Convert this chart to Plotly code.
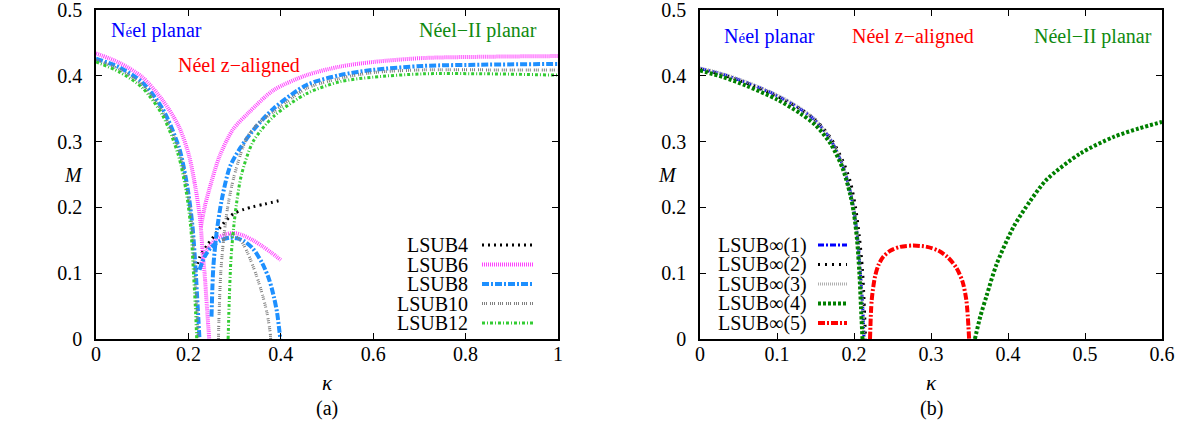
import plotly.graph_objects as go

# ---------------- Data: panel (a) ----------------
k_L4 = [0.216, 0.225, 0.24, 0.254, 0.275, 0.297, 0.32, 0.34, 0.365, 0.395]
m_L4 = [0.105, 0.125, 0.142, 0.155, 0.175, 0.19, 0.197, 0.201, 0.205, 0.21]

k_L6_planar = [0, 0.05, 0.1, 0.144, 0.18, 0.202, 0.216, 0.224, 0.227, 0.231, 0.235, 0.24, 0.245]
m_L6_planar = [0.434, 0.42, 0.398, 0.363, 0.322, 0.277, 0.227, 0.19, 0.17, 0.13, 0.1, 0.05, 0]
k_L6_n2 = [0.227, 0.235, 0.245, 0.267, 0.296, 0.332, 0.384, 0.456, 0.528, 0.6, 0.708, 0.85, 1.0]
m_L6_n2 = [0.17, 0.2, 0.227, 0.277, 0.318, 0.345, 0.378, 0.401, 0.414, 0.421, 0.427, 0.429, 0.430]
k_L6_z = [0.228, 0.24, 0.26, 0.28, 0.30, 0.32, 0.34, 0.36, 0.38, 0.40]
m_L6_z = [0.115, 0.135, 0.152, 0.159, 0.161, 0.157, 0.150, 0.141, 0.131, 0.120]

k_L8_planar = [0, 0.05, 0.1, 0.144, 0.18, 0.198, 0.209, 0.216, 0.22, 0.224]
m_L8_planar = [0.426, 0.413, 0.39, 0.35, 0.29, 0.23, 0.17, 0.10, 0.05, 0]
k_L8_n2 = [0.25, 0.254, 0.261, 0.272, 0.29, 0.312, 0.34, 0.384, 0.456, 0.528, 0.6, 0.708, 0.85, 1.0]
m_L8_n2 = [0.034, 0.11, 0.161, 0.211, 0.262, 0.29, 0.317, 0.35, 0.386, 0.401, 0.409, 0.415, 0.417, 0.418]
k_L8_z = [0.224, 0.235, 0.25, 0.27, 0.29, 0.305, 0.32, 0.34, 0.36, 0.375, 0.385, 0.392, 0.397, 0.399]
m_L8_z = [0.105, 0.125, 0.14, 0.15, 0.154, 0.153, 0.149, 0.137, 0.115, 0.09, 0.064, 0.04, 0.012, 0]

k_L10_planar = [0, 0.05, 0.1, 0.144, 0.18, 0.198, 0.208, 0.214, 0.218, 0.221]
m_L10_planar = [0.424, 0.41, 0.386, 0.345, 0.285, 0.225, 0.17, 0.10, 0.05, 0]
k_L10_n2 = [0.265, 0.267, 0.27, 0.276, 0.285, 0.298, 0.326, 0.35, 0.384, 0.456, 0.528, 0.6, 0.708, 0.85, 1.0]
m_L10_n2 = [0, 0.05, 0.10, 0.15, 0.2, 0.245, 0.305, 0.327, 0.345, 0.381, 0.396, 0.405, 0.409, 0.409, 0.409]
k_L10_z = [0.275, 0.29, 0.30, 0.315, 0.33, 0.348, 0.36, 0.37, 0.377, 0.378]
m_L10_z = [0.15, 0.158, 0.157, 0.148, 0.128, 0.095, 0.068, 0.04, 0.01, 0]

k_L12_planar = [0, 0.05, 0.1, 0.144, 0.178, 0.195, 0.205, 0.211, 0.215, 0.218]
m_L12_planar = [0.421, 0.406, 0.382, 0.34, 0.28, 0.225, 0.17, 0.10, 0.05, 0]
k_L12_n2 = [0.286, 0.288, 0.292, 0.298, 0.305, 0.315, 0.34, 0.384, 0.456, 0.528, 0.6, 0.708, 0.85, 1.0]
m_L12_n2 = [0, 0.05, 0.12, 0.17, 0.21, 0.25, 0.30, 0.338, 0.373, 0.391, 0.398, 0.403, 0.403, 0.401]

# ---------------- Data: panel (b) ----------------
k_inf1 = [0, 0.03, 0.06, 0.1, 0.13, 0.15, 0.17, 0.185, 0.195, 0.2, 0.205, 0.208, 0.211, 0.213]
m_inf1 = [0.411, 0.402, 0.39, 0.37, 0.35, 0.332, 0.302, 0.265, 0.225, 0.195, 0.15, 0.105, 0.055, 0]
k_inf2 = [0, 0.03, 0.06, 0.1, 0.13, 0.15, 0.17, 0.185, 0.195, 0.202, 0.207, 0.211, 0.213, 0.215]
m_inf2 = [0.41, 0.401, 0.389, 0.369, 0.35, 0.333, 0.305, 0.272, 0.24, 0.2, 0.155, 0.105, 0.06, 0]
k_inf3 = [0, 0.03, 0.06, 0.1, 0.13, 0.15, 0.17, 0.185, 0.195, 0.2, 0.205, 0.208, 0.211, 0.213]
m_inf3 = [0.412, 0.403, 0.391, 0.371, 0.351, 0.333, 0.303, 0.266, 0.226, 0.196, 0.151, 0.106, 0.056, 0]
k_inf4_planar = [0, 0.03, 0.06, 0.1, 0.13, 0.15, 0.17, 0.185, 0.195, 0.2, 0.204, 0.207, 0.209, 0.211]
m_inf4_planar = [0.408, 0.398, 0.385, 0.364, 0.343, 0.325, 0.296, 0.26, 0.22, 0.19, 0.15, 0.1, 0.05, 0]
k_inf4_n2 = [0.357, 0.364, 0.372, 0.385, 0.407, 0.429, 0.45, 0.494, 0.537, 0.57, 0.6]
m_inf4_n2 = [0, 0.034, 0.065, 0.113, 0.17, 0.21, 0.242, 0.282, 0.307, 0.32, 0.330]
k_inf5 = [0.2208, 0.223, 0.2273, 0.232, 0.238, 0.247, 0.26, 0.277, 0.295, 0.31, 0.322, 0.333, 0.341, 0.346, 0.3495]
m_inf5 = [0, 0.059, 0.095, 0.113, 0.125, 0.134, 0.14, 0.142, 0.14, 0.134, 0.124, 0.108, 0.087, 0.058, 0]

labels_a = ["LSUB4", "LSUB6", "LSUB8", "LSUB10", "LSUB12"]
labels_b = ["LSUB\u221e(1)", "LSUB\u221e(2)", "LSUB\u221e(3)", "LSUB\u221e(4)", "LSUB\u221e(5)"]

# ---------------- Styles ----------------
FONT = "Liberation Serif"
sty_a = [
    dict(color="#000000", width=3, dash="2px,4px"),
    dict(color="#ff44ff", width=4, dash="1px,1px"),
    dict(color="#1e90ff", width=4, dash="7px,2px,2px,2px"),
    dict(color="#808080", width=3, dash="1px,1px,1px,1px,1px,3px"),
    dict(color="#33cc33", width=3, dash="3px,2px,1px,2px"),
]
sty_b = [
    dict(color="#0000ff", width=3, dash="6px,2px,2px,2px"),
    dict(color="#000000", width=3, dash="2px,5px"),
    dict(color="#b0b0b0", width=3, dash="1px,1px"),
    dict(color="#008000", width=4, dash="3px,2px"),
    dict(color="#ff0000", width=4, dash="7px,2px,2px,2px"),
]

fig = go.Figure()

def add(k, m, style, xa, ya):
    fig.add_trace(go.Scatter(x=k, y=m, mode="lines", xaxis=xa, yaxis=ya,
                             line=dict(shape="spline", smoothing=0.8, **style),
                             showlegend=False, hoverinfo="skip"))

series_a = [
    [(k_L4, m_L4)],
    [(k_L6_planar, m_L6_planar), (k_L6_n2, m_L6_n2), (k_L6_z, m_L6_z)],
    [(k_L8_planar, m_L8_planar), (k_L8_n2, m_L8_n2), (k_L8_z, m_L8_z)],
    [(k_L10_planar, m_L10_planar), (k_L10_n2, m_L10_n2), (k_L10_z, m_L10_z)],
    [(k_L12_planar, m_L12_planar), (k_L12_n2, m_L12_n2)],
]
series_b = [
    [(k_inf1, m_inf1)],
    [(k_inf2, m_inf2)],
    [(k_inf3, m_inf3)],
    [(k_inf4_planar, m_inf4_planar), (k_inf4_n2, m_inf4_n2)],
    [(k_inf5, m_inf5)],
]
for segs, st in zip(series_a, sty_a):
    for k, m in segs:
        add(k, m, st, "x", "y")
for segs, st in zip(series_b, sty_b):
    for k, m in segs:
        add(k, m, st, "x2", "y2")

# ---------------- Layout ----------------
W, H = 1188, 432
X0, X1, Y0, Y1 = 96, 1162, 10, 339   # plot area in page pixels
ml, mt = X0, Y0
mr, mb = W - X1, H - Y1
pw = X1 - X0
ph = Y1 - Y0
dom_a = [0, 462 / pw]
dom_b = [(700 - X0) / pw, 1]

def axis_common(standoff):
    return dict(showline=True, linecolor="black", linewidth=1.5, mirror="ticks",
                ticks="inside", ticklen=6, tickwidth=1, tickcolor="black",
                showgrid=False, zeroline=False, automargin=False,
                ticklabeloverflow="allow",
                tickfont=dict(family=FONT, size=20, color="black"),
                ticklabelstandoff=standoff)

fig.update_layout(
    width=W, height=H, margin=dict(l=ml, r=mr, t=mt, b=mb, autoexpand=False),
    paper_bgcolor="white", plot_bgcolor="white",
    xaxis=dict(domain=dom_a, range=[0, 1], dtick=0.2, anchor="y", **axis_common(-4)),
    yaxis=dict(range=[0, 0.5], dtick=0.1, anchor="x", **axis_common(8)),
    xaxis2=dict(domain=dom_b, range=[0, 0.6], dtick=0.1, anchor="y2", **axis_common(-4)),
    yaxis2=dict(range=[0, 0.5], dtick=0.1, anchor="x2", **axis_common(8)),
)

ann = []
shapes = []
small_e = "N<span style='font-size:15px'>\u00e9</span>el planar"
# phase labels
for xr, yr, x, y, txt, col in [
    ("x", "y", 0.13, 0.4696, small_e, "#0000ff"),
    ("x", "y", 0.31, 0.416, "N\u00e9el z\u2212aligned", "#ff0000"),
    ("x", "y", 0.827, 0.4696, "N\u00e9el\u2212II planar", "#108a10"),
    ("x2", "y2", 0.0909, 0.459, small_e, "#0000ff"),
    ("x2", "y2", 0.2766, 0.459, "N\u00e9el z\u2212aligned", "#ff0000"),
    ("x2", "y2", 0.51, 0.459, "N\u00e9el\u2212II planar", "#108a10"),
]:
    ann.append(dict(xref=xr, yref=yr, x=x, y=y, text=txt, showarrow=False,
                    font=dict(family=FONT, size=20, color=col)))

# axis titles and captions (paper coords span the plot area)
def py2paper(py):
    return (Y1 - py) / ph

for xr, py, txt, sz in [
    ("x domain", 383, "<i>\u03ba</i>", 21),
    ("x2 domain", 383, "<i>\u03ba</i>", 21),
    ("x domain", 408, "(a)", 20),
    ("x2 domain", 408, "(b)", 20),
]:
    ann.append(dict(xref=xr, yref="paper", x=0.5, y=py2paper(py), text=txt,
                    showarrow=False, yanchor="middle",
                    font=dict(family=FONT, size=sz, color="black")))
for yr, xpx in [("y domain", 62), ("y2 domain", 667)]:
    ann.append(dict(xref="paper", yref=yr, x=(xpx - X0) / pw, y=0.5,
                    text="<i>M</i>", showarrow=False,
                    font=dict(family=FONT, size=20, color="black")))

# key boxes (gnuplot style: text then sample)
rows_px = [245, 264.5, 284, 303.5, 323]
for i, (lab, st) in enumerate(zip(labels_a, sty_a)):
    yd = (Y1 - rows_px[i]) / ph
    ann.append(dict(xref="x domain", yref="y domain", x=(470 - 96) / 462, y=yd,
                    xanchor="right", yanchor="middle", text=lab, showarrow=False,
                    font=dict(family=FONT, size=20, color="black")))
    shapes.append(dict(type="line", xref="x domain", yref="y domain",
                       x0=(482 - 96) / 462, x1=(534 - 96) / 462, y0=yd, y1=yd,
                       line=dict(color=st["color"], width=st["width"], dash=st["dash"])))
for i, (lab, st) in enumerate(zip(labels_b, sty_b)):
    yd = (Y1 - rows_px[i]) / ph
    ann.append(dict(xref="x2 domain", yref="y2 domain", x=(809 - 700) / 462, y=yd,
                    xanchor="right", yanchor="middle", text=lab, showarrow=False,
                    font=dict(family=FONT, size=20, color="black")))
    shapes.append(dict(type="line", xref="x2 domain", yref="y2 domain",
                       x0=(818 - 700) / 462, x1=(847 - 700) / 462, y0=yd, y1=yd,
                       line=dict(color=st["color"], width=st["width"], dash=st["dash"])))

fig.update_layout(annotations=ann, shapes=shapes)
fig.write_html("out.html", config=dict(displayModeBar=False),
               post_script="document.body.style.margin='0';document.body.style.overflow='hidden';")
